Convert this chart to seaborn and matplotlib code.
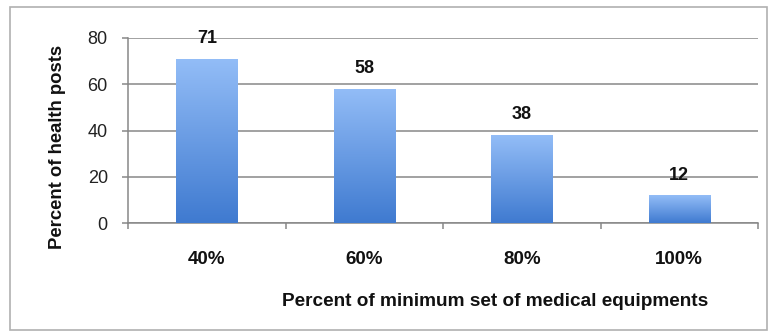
import numpy as np
import pandas as pd
import matplotlib
matplotlib.use("Agg")
import matplotlib.pyplot as plt
import seaborn as sns
from matplotlib.colors import LinearSegmentedColormap
from matplotlib.patches import Rectangle

categories = ["40%", "60%", "80%", "100%"]
values = [71, 58, 38, 12]
y_ticks = [0, 20, 40, 60, 80]

sns.set_theme(style="white")
plt.rcParams["font.family"] = ["Liberation Sans", "DejaVu Sans"]

W, H = 771, 333
fig = plt.figure(figsize=(W / 100, H / 100), dpi=100)
ax = fig.add_axes([128 / W, 1 - 223 / H, (758 - 128) / W, (223 - 38) / H])

df = pd.DataFrame({"cat": categories, "val": values})
sns.barplot(data=df, x="cat", y="val", ax=ax, width=0.39, color="#5b93e0",
            saturation=1, zorder=3)

ax.set_xlim(-0.5, len(categories) - 0.5)
ax.set_ylim(0, 80)
ax.set_yticks(y_ticks)
ax.yaxis.grid(True, color="#878787", linewidth=1.1, zorder=0)
ax.set_axisbelow(True)

# gradient fill for each bar, light at top, deeper blue at the base
cmap = LinearSegmentedColormap.from_list("bluegrad", ["#3f7ad0", "#93bdf7"])
grad = np.linspace(0, 1, 256).reshape(-1, 1)
for patch in list(ax.patches):
    x0, y0 = patch.get_x(), patch.get_y()
    w, h = patch.get_width(), patch.get_height()
    patch.set_facecolor("none")
    patch.set_edgecolor("none")
    im = ax.imshow(grad, cmap=cmap, aspect="auto", origin="lower",
                   extent=[x0, x0 + w, y0, y0 + h], zorder=3)
    clip = Rectangle((x0, y0), w, h, transform=ax.transData)
    im.set_clip_path(clip)

ax.set_xlim(-0.5, len(categories) - 0.5)
ax.set_ylim(0, 80)

# value labels above bars
for i, v in enumerate(values):
    ax.annotate(str(v), (i, v), xytext=(0, 14.5), textcoords="offset points",
                ha="center", va="center", fontsize=13, fontweight="bold",
                color="#111111", zorder=5)

for s in ["top", "right"]:
    ax.spines[s].set_visible(False)
for s in ["left", "bottom"]:
    ax.spines[s].set_color("#878787")
    ax.spines[s].set_linewidth(1.1)

# category separators as bottom ticks
ax.set_xticks(np.arange(-0.5, len(categories), 1.0), minor=True)
ax.tick_params(axis="x", which="minor", bottom=True, length=4.5, width=1.1,
               color="#878787", direction="out")
ax.tick_params(axis="x", which="major", bottom=False, length=0, pad=20,
               labelsize=13.5, labelcolor="#111111")
for lab in ax.get_xticklabels():
    lab.set_fontweight("bold")
ax.tick_params(axis="y", left=True, length=4.5, width=1.1, color="#878787",
               direction="out", labelsize=13, pad=10, labelcolor="#222222")

ax.set_xlabel("Percent of minimum set of medical equipments", fontsize=13.7,
              fontweight="bold", color="#111111")
ax.xaxis.label.set_va("center")
ax.xaxis.set_label_coords((495 - 128) / (758 - 128), -(302 - 223) / (223 - 38))
ax.set_ylabel("Percent of health posts", fontsize=13.3, fontweight="bold",
              color="#111111")
ax.yaxis.label.set_va("center")
ax.yaxis.set_label_coords(-(128 - 57) / (758 - 128), (223 - 147) / (223 - 38))

# outer frame around the chart
frame = Rectangle((10 / W, 1 - 330 / H), (767 - 10) / W, (330 - 7) / H,
                  transform=fig.transFigure, fill=False, edgecolor="#b0b0b0",
                  linewidth=1.2)
fig.patches.append(frame)

fig.savefig("out.png", dpi=100)
